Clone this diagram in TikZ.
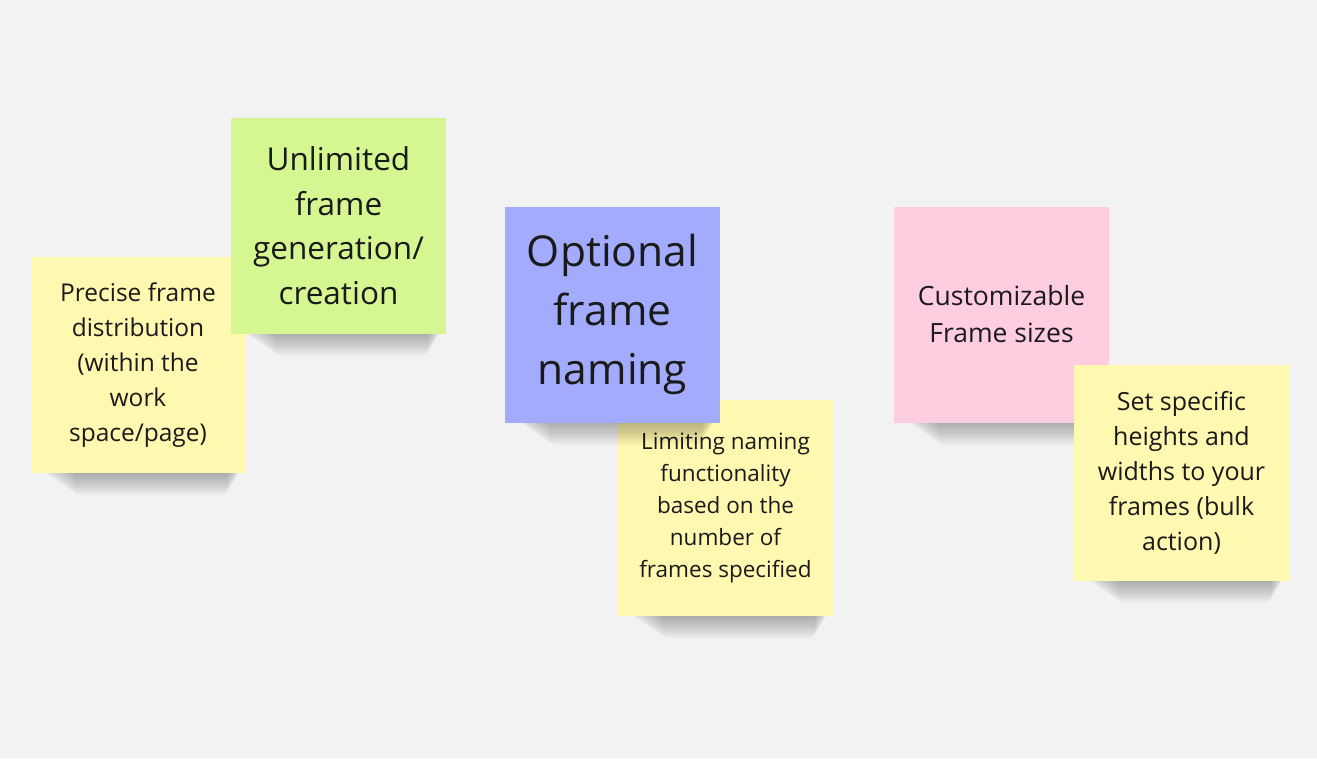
\documentclass[tikz,border=0pt]{standalone}
\usepackage{fontspec}
\setmainfont{Open Sans}
\usetikzlibrary{calc}
\definecolor{bgcol}{HTML}{F2F2F2}
\definecolor{stickyyellow}{HTML}{FFF8B0}
\definecolor{stickygreen}{HTML}{D6F692}
\definecolor{stickyblue}{HTML}{A3ACFC}
\definecolor{stickypink}{HTML}{FFCDE0}
\definecolor{inkcol}{HTML}{1A1A1A}
\tikzset{
  sticky/.style={inner sep=0pt, minimum width=215pt, minimum height=216pt,
    align=center, text=inkcol, anchor=center},
  shadowlayer/.style={fill=black, opacity=0.02, rounded corners=6pt},
}
\newcommand\stickshadow[1]{%
  \foreach \i in {0,...,15} {%
    \fill[shadowlayer] ($(#1)+(-96+2.2*\i,102)$) rectangle ($(#1)+(103-0.9*\i,108+1.5*\i)$);
  }%
}
\begin{document}
\begin{tikzpicture}[x=1pt,y=-1pt]
\useasboundingbox (0,0) rectangle (1317,758);
\fill[bgcol] (0,0) rectangle (1317,758);

% centres
\coordinate (c1) at (138,365);
\coordinate (c2) at (338.5,225.5);
\coordinate (c4) at (725.5,508);
\coordinate (c3) at (612.5,314.5);
\coordinate (c5) at (1001.5,314.5);
\coordinate (c6) at (1181.5,472.5);

% left group
\stickshadow{c1}
\node[sticky, fill=stickyyellow, font=\fontsize{24.5}{35}\selectfont] (precise) at (c1)
  {Precise frame\\distribution\\(within the\\work\\space/page)};
\stickshadow{c2}
\node[sticky, fill=stickygreen, font=\fontsize{31.5}{44.5}\selectfont] (unlimited) at (c2)
  {Unlimited\\frame\\generation/\\creation};

% middle group
\stickshadow{c4}
\node[sticky, fill=stickyyellow, font=\fontsize{22.5}{32.2}\selectfont] (limiting) at (c4)
  {Limiting naming\\functionality\\based on the\\number of\\frames specified};
\stickshadow{c3}
\node[sticky, fill=stickyblue, font=\fontsize{42.5}{59}\selectfont] (optional) at (c3)
  {Optional\\frame\\naming};

% right group
\stickshadow{c5}
\node[sticky, fill=stickypink, font=\fontsize{26.5}{37}\selectfont] (custom) at (c5)
  {Customizable\\Frame sizes};
\stickshadow{c6}
\node[sticky, fill=stickyyellow, font=\fontsize{25}{35}\selectfont] (setsizes) at (c6)
  {Set specific\\heights and\\widths to your\\frames (bulk\\action)};
\end{tikzpicture}
\end{document}
